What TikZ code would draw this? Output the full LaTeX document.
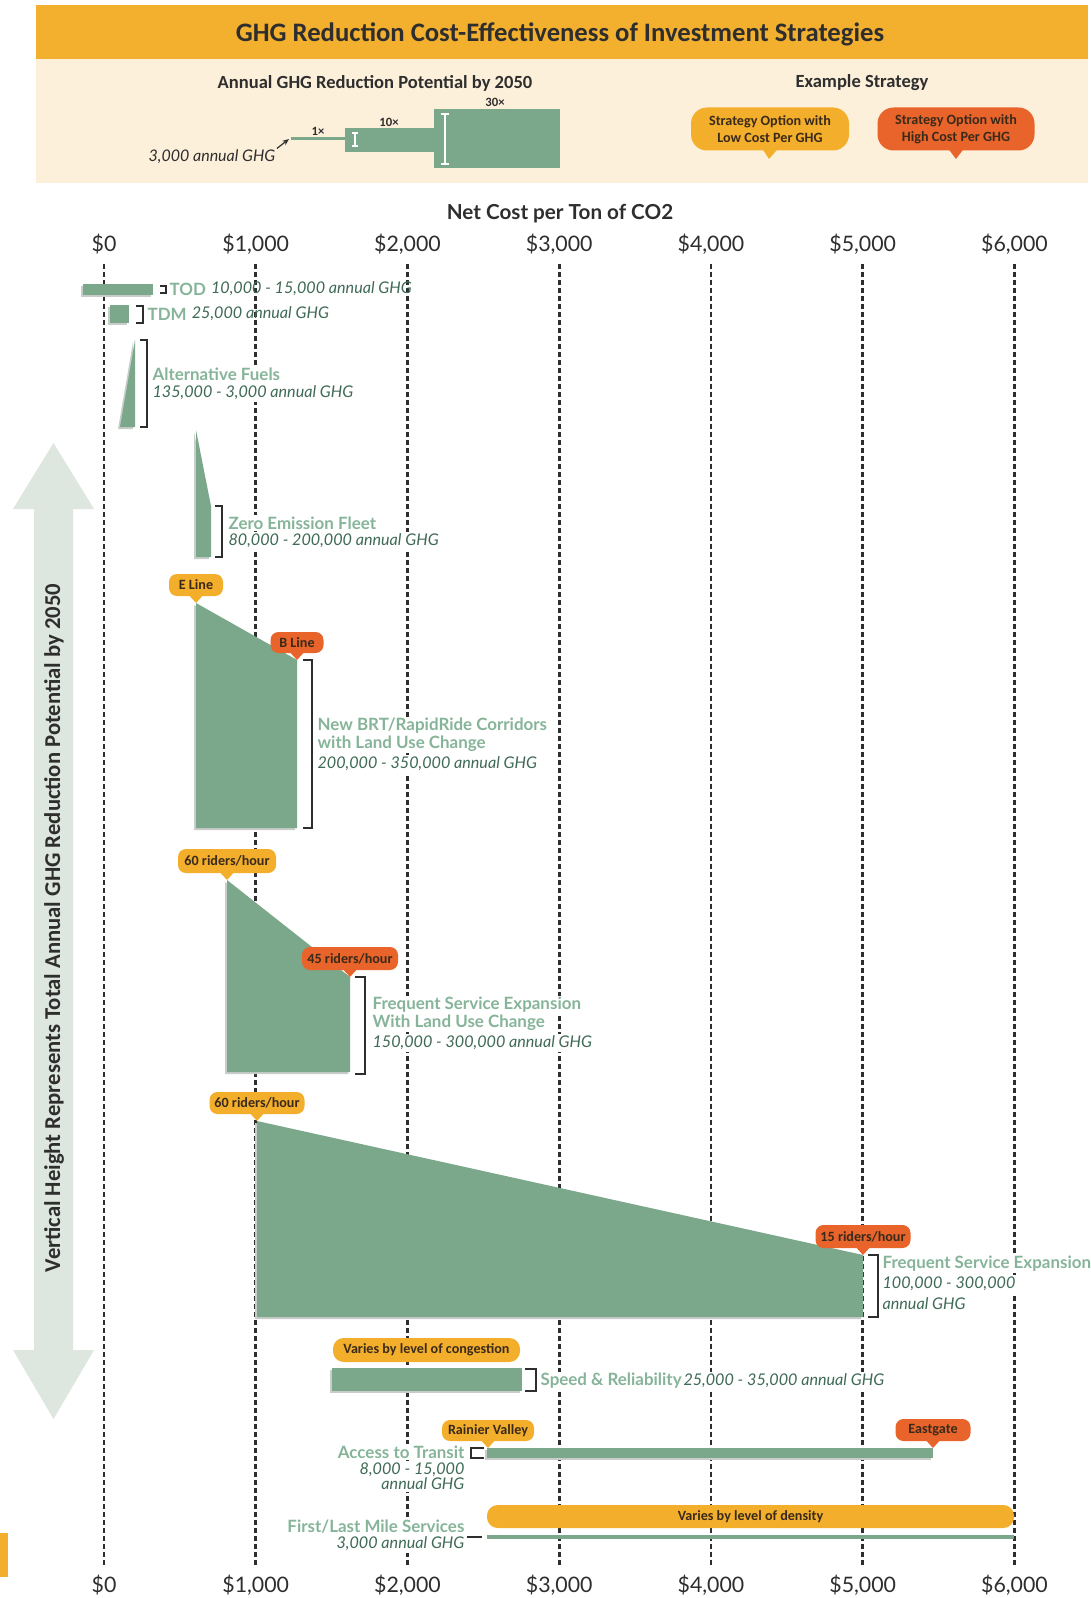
\documentclass[tikz,border=0pt]{standalone}
\usepackage{fontspec}
\setmainfont{Lato}
\newfontfamily\calfont{Carlito}
\usetikzlibrary{calc,arrows.meta}
\pgfdeclarelayer{back}
\pgfdeclarelayer{mask}
\pgfsetlayers{back,mask,main}
\definecolor{banner}{HTML}{F3AF2E}
\definecolor{cream}{HTML}{FDF0DA}
\definecolor{grn}{HTML}{7BA78B}
\definecolor{grnname}{HTML}{86B498}
\definecolor{grnnum}{HTML}{3F6A56}
\definecolor{ylw}{HTML}{F3AE2C}
\definecolor{org}{HTML}{E8642A}
\definecolor{arrowc}{HTML}{DDE6DF}
\definecolor{shadowc}{HTML}{C9CDC9}
\definecolor{ink}{HTML}{2E2E2E}
\definecolor{bubtext}{HTML}{3A2A1A}
\newcommand\shp[1]{\fill[shadowc,shift={(-2,2)}] #1; \fill[grn] #1;}
\newcommand\bubble[7]{%
  \node[bub, fill=#2, minimum width=#5*0.75pt, minimum height=#6*0.75pt] (#1) at (#3,#4-7-#6/2) {#7};
  \fill[#2] ($(#1.south)+(-7,-1)$) -- (#3,#4) -- ($(#1.south)+(7,-1)$) -- cycle;
}
\begin{document}
\begin{tikzpicture}[x=0.75pt,y=-0.75pt,
  gridline/.style={draw=ink, line width=2pt, dash pattern=on 3.5pt off 2.5pt},
  bracketline/.style={draw=ink, line width=1.9pt},
  tick/.style={font=\fontsize{16}{19}\selectfont, text=ink},
  bub/.style={rounded corners=6pt, inner sep=0pt, text=bubtext, font=\calfont\bfseries\fontsize{10.6}{12.5}\selectfont},
  strname/.style={inner sep=1pt, text=grnname, font=\bfseries\fontsize{12.7}{15}\selectfont},
  strnum/.style={inner sep=1pt, text=grnnum, font=\itshape\fontsize{12.1}{15}\selectfont}
]
\useasboundingbox (0,0) rectangle (1090,1598);
\begin{pgfonlayer}{back}
\fill[white] (0,0) rectangle (1090,1598);
\fill[banner] (36,5) rectangle (1088,59);
\fill[cream] (36,59) rectangle (1088,183);
\foreach \k in {0,...,6} {
  \pgfmathsetmacro\xx{104+151.75*\k}
  \draw[gridline] (\xx,264) -- (\xx,1566);
}
\end{pgfonlayer}

% header
\node[font=\calfont\bfseries\fontsize{20}{24}\selectfont, text=ink] (title) at (560,34) {GHG Reduction Cost-Effectiveness of Investment Strategies};
\node[font=\calfont\bfseries\fontsize{13.9}{16}\selectfont, text=ink] (legtitle) at (375,83) {Annual GHG Reduction Potential by 2050};
\node[font=\calfont\bfseries\fontsize{13.9}{16}\selectfont, text=ink] (extitle) at (862,83) {Example Strategy};

% legend scale
\fill[grn] (291,137) rectangle (345,140);
\fill[grn] (345,128) rectangle (434,152);
\fill[grn] (434,109) rectangle (560,168);
\draw[white, line width=1.3pt] (355,133) -- (355,146) (352,133) -- (358,133) (352,146) -- (358,146);
\draw[white, line width=1.3pt] (445,114) -- (445,164) (441,114) -- (449,114) (441,164) -- (449,164);
\node[font=\calfont\bfseries\fontsize{9.5}{11}\selectfont, text=ink] (l1) at (318,131) {1×};
\node[font=\calfont\bfseries\fontsize{9.5}{11}\selectfont, text=ink] (l10) at (389,122) {10×};
\node[font=\calfont\bfseries\fontsize{9.5}{11}\selectfont, text=ink] (l30) at (495,102) {30×};
\node[font=\itshape\fontsize{12}{14}\selectfont, text=ink, inner sep=1pt] (ann) at (212,157) {3,000 annual GHG};
\coordinate (onex) at (289,139);
\draw[ink, line width=0.9pt, -{Stealth[length=5pt,width=4pt]}] (ann.north east) -- (onex);

% legend bubbles
\node[bub, fill=ylw, rounded corners=12pt, minimum width=158*0.75pt, minimum height=43*0.75pt, align=center] (lowb) at (770,129) {Strategy Option with\\Low Cost Per GHG};
\fill[ylw] ($(lowb.south)+(-7,-1)$) -- (769,159) -- ($(lowb.south)+(7,-1)$) -- cycle;
\node[bub, fill=org, rounded corners=12pt, minimum width=157*0.75pt, minimum height=43*0.75pt, align=center] (highb) at (956,129) {Strategy Option with\\High Cost Per GHG};
\fill[org] ($(highb.south)+(-7,-1)$) -- (956,159) -- ($(highb.south)+(7,-1)$) -- cycle;

% axis
\node[font=\bfseries\fontsize{15.5}{18}\selectfont, text=ink] (axtitle) at (560,214) {Net Cost per Ton of CO2};
\foreach \k/\lab in {0/{\$0},1/{\$1,000},2/{\$2,000},3/{\$3,000},4/{\$4,000},5/{\$5,000},6/{\$6,000}} {
  \pgfmathsetmacro\xx{104+151.75*\k}
  \node[tick] (top\k) at (\xx,244) {\lab};
  \node[tick] (bot\k) at (\xx,1585) {\lab};
}

% left arrow
\fill[arrowc] (53.5,443) -- (94,509) -- (73,509) -- (73,1350) -- (94,1350) -- (53.5,1419) -- (13,1350) -- (34,1350) -- (34,509) -- (13,509) -- cycle;
\node[rotate=90, font=\calfont\bfseries\fontsize{17}{20}\selectfont, text=ink] (vlabel) at (54,928) {Vertical Height Represents Total Annual GHG Reduction Potential by 2050};

% shapes
\shp{(83,284) rectangle (153,295)}
\shp{(110,305) rectangle (129,323)}
\shp{(135,340) -- (135,427) -- (120,427) -- cycle}
\shp{(196,430) -- (211,506) -- (211,557) -- (196,557) -- cycle}
\shp{(196,603) -- (297,660) -- (297,828) -- (196,828) -- cycle}
\shp{(227,880) -- (350,977) -- (350,1072) -- (227,1072) -- cycle}
\shp{(257,1121) -- (863,1255) -- (863,1317) -- (257,1317) -- cycle}
\shp{(332,1368) rectangle (522,1391)}
\shp{(487,1448) rectangle (933,1458)}
\fill[grn] (487,1535) rectangle (1014,1539);

% brackets
\draw[bracketline] (160,286) -- (166,286) -- (166,293) -- (160,293);
\draw[bracketline] (136,306) -- (143,306) -- (143,323) -- (136,323);
\draw[bracketline] (140,340) -- (147,340) -- (147,427) -- (140,427);
\draw[bracketline] (215,506) -- (222,506) -- (222,557) -- (215,557);
\draw[bracketline] (303,660) -- (312,660) -- (312,828) -- (303,828);
\draw[bracketline] (355,977) -- (365,977) -- (365,1074) -- (355,1074);
\draw[bracketline] (868,1255) -- (878,1255) -- (878,1317) -- (868,1317);
\draw[bracketline] (525,1369) -- (536,1369) -- (536,1391) -- (525,1391);
\draw[bracketline] (484,1448) -- (471,1448) -- (471,1458) -- (484,1458);
\draw[bracketline] (467,1537) -- (482,1537);

% labels
\node[strname, anchor=west] (todn) at (168,289) {TOD};
\node[strnum, anchor=west] (todv) at ($(todn.east)+(2,0)$) {10,000 - 15,000 annual GHG};
\node[strname, anchor=west] (tdmn) at (146,314) {TDM};
\node[strnum, anchor=west] (tdmv) at ($(tdmn.east)+(2,0)$) {25,000 annual GHG};
\node[strname, anchor=west] (afa) at (151,374) {Alternative Fuels};
\node[strnum, anchor=west] (afb) at (151,393) {135,000 - 3,000 annual GHG};
\node[strname, anchor=west] (zea) at (227,523) {Zero Emission Fleet};
\node[strnum, anchor=west] (zeb) at (227,541) {80,000 - 200,000 annual GHG};
\node[strname, anchor=west] (brta) at (316,726) {New BRT/RapidRide Corridors};
\node[strname, anchor=west] (brtb) at (316,744) {with Land Use Change};
\node[strnum, anchor=west] (brtc) at (316,764) {200,000 - 350,000 annual GHG};
\node[strname, anchor=west] (fsa) at (371,1005) {Frequent Service Expansion};
\node[strname, anchor=west] (fsb) at (371,1023) {With Land Use Change};
\node[strnum, anchor=west] (fsc) at (371,1043) {150,000 - 300,000 annual GHG};
\node[strname, anchor=west] (fta) at (881,1264) {Frequent Service Expansion};
\node[strnum, anchor=west] (ftb) at (881,1284) {100,000 - 300,000};
\node[strnum, anchor=west] (ftc) at (881,1304) {annual GHG};
\node[strname, anchor=west] (spln) at (539,1381) {Speed \& Reliability};
\node[strnum, anchor=west, inner xsep=0pt] (splv) at (spln.east) {25,000 - 35,000 annual GHG};
\node[strname, anchor=east] (ata) at (466,1452) {Access to Transit};
\node[strnum, anchor=east] (atb) at (466,1470) {8,000 - 15,000};
\node[strnum, anchor=east] (atc) at (466,1484) {annual GHG};
\node[strname, anchor=east] (fla) at (466,1527) {First/Last Mile Services};
\node[strnum, anchor=east] (flb) at (466,1544) {3,000 annual GHG};

% white masks behind labels (hide grid lines)
\begin{pgfonlayer}{mask}
\foreach \n in {afa,afb,zea,zeb,brta,brtb,brtc,fsa,fsb,fsc,fta,ftb,ftc,spln,splv,ata,atb,atc,fla,flb} {
  \fill[white] (\n.south west) rectangle (\n.north east);
}
\end{pgfonlayer}

% bubbles
\bubble{eline}{ylw}{196}{603}{54}{22}{E Line}
\bubble{bline}{org}{297}{660}{53}{21}{B Line}
\bubble{sixtya}{ylw}{227}{880}{98}{24}{60 riders/hour}
\bubble{fortyfive}{org}{350}{977}{96}{23}{45 riders/hour}
\bubble{sixtyb}{ylw}{257}{1121}{95}{22}{60 riders/hour}
\bubble{fifteen}{org}{863}{1255}{95}{23}{15 riders/hour}
\bubble{rainier}{ylw}{488}{1448}{92}{21}{Rainier Valley}
\bubble{eastgate}{org}{933}{1448}{75}{22}{Eastgate}
\node[bub, fill=ylw, rounded corners=8pt, minimum width=187*0.75pt, minimum height=24*0.75pt] (cong) at (426.5,1350) {Varies by level of congestion};
\node[bub, fill=ylw, rounded corners=8pt, minimum width=527*0.75pt, minimum height=23*0.75pt] (dens) at (750.5,1516.5) {Varies by level of density};

% corner mark
\fill[ylw] (0,1533) rectangle (8,1577);
\end{tikzpicture}
\end{document}
